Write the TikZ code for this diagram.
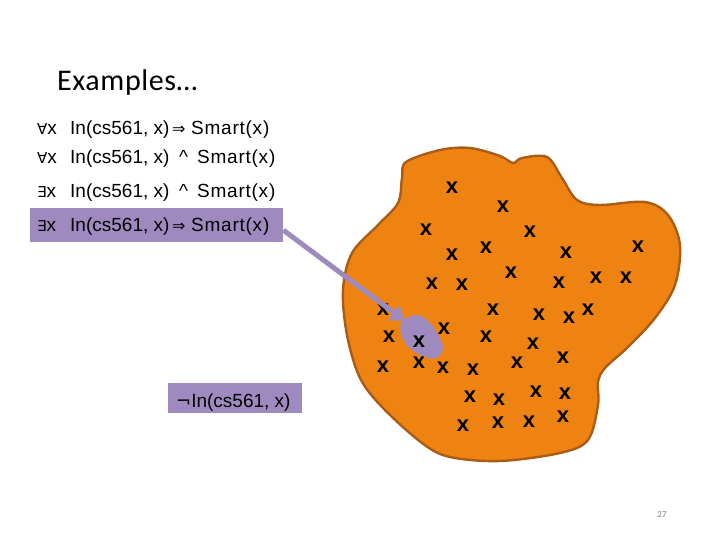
\documentclass[tikz,border=0pt]{standalone}
\usepackage{fontspec}
\setmainfont{Liberation Sans}
\newfontfamily\symfont{DejaVu Sans}
\newfontfamily\calfont{Carlito}
\usetikzlibrary{arrows.meta}
\definecolor{hlpurple}{RGB}{158,138,190}
\definecolor{blobfill}{RGB}{238,131,18}
\definecolor{blobline}{RGB}{170,92,22}
\begin{document}
\begin{tikzpicture}[x=1pt,y=-1pt,
  txt/.style={anchor=base west,inner sep=0pt,font=\fontsize{19}{19}\selectfont},
  smart/.style={anchor=base west,inner sep=0pt,font=\fontsize{19}{19}\selectfont\addfontfeature{LetterSpace=4}},
  sym/.style={anchor=base west,inner sep=0pt,font=\fontsize{16}{16}\symfont},
  mk/.style={inner sep=0pt,font=\fontsize{22}{22}\selectfont\bfseries},
  hl/.style={fill=hlpurple,draw=none}]
\useasboundingbox (0,0) rectangle (720,540);
% title
\node[anchor=base west,inner sep=0pt,font=\fontsize{30}{30}\calfont\addfontfeature{LetterSpace=2}] (title) at (57,91) {Examples\ldots};
% highlighted box
\node[hl,anchor=north west,minimum width=253pt,minimum height=34pt,inner sep=0pt] (f4) at (30,208) {};
% formula lines
\node[txt] (q1) at (37,135) {{\symfont\fontsize{15}{15}\selectfont ∀}x};
\node[txt] (a1) at (70,135) {In(cs561, x)};
\node[sym] (o1) at (172,135) {⇒};
\node[smart] (s1) at (191,135) {Smart(x)};
\node[txt] (q2) at (37,164) {{\symfont\fontsize{15}{15}\selectfont ∀}x};
\node[txt] (a2) at (70,164) {In(cs561, x)};
\node[txt] (o2) at (179,164) {\textasciicircum};
\node[smart] (s2) at (197,164) {Smart(x)};
\node[txt] (q3) at (37,198) {{\symfont\fontsize{15}{15}\selectfont ∃}x};
\node[txt] (a3) at (70,198) {In(cs561, x)};
\node[txt] (o3) at (179,198) {\textasciicircum};
\node[smart] (s3) at (197,198) {Smart(x)};
\node[txt] (q4) at (37,231) {{\symfont\fontsize{15}{15}\selectfont ∃}x};
\node[txt] (a4) at (70,231) {In(cs561, x)};
\node[sym] (o4) at (172,231) {⇒};
\node[smart] (s4) at (191,231) {Smart(x)};
% not-In box
\node[hl,anchor=north west,minimum width=134pt,minimum height=30pt,inner sep=0pt] (nb) at (168,383) {};
\node[txt] (nt) at (176,407) {{\symfont\fontsize{18}{18}\selectfont ¬}In(cs561, x)};
% orange blob
\filldraw[fill=blobfill,draw=blobline,line width=2.4pt] plot[smooth cycle,tension=0.55] coordinates {
 (406,162) (440,150) (470,148) (500,156) (513,163) (522,158) (547,157) (562,178)
 (577,200) (600,205) (645,202) (668,215) (680,245) (675,285) (655,318) (628,347)
 (605,368) (598,382) (598,405) (588,440) (560,453) (500,461) (450,457) (422,443)
 (383,408) (360,378) (347,335) (343,290) (352,253) (378,225) (398,203) (402,178)};
% marks
\foreach \a/\b [count=\i] in {452/188,503/207,426/230,530/232,452/255,486/248,566/253,638/247,
  511/273,432/284,462/285,559/283,596/278,626/278,493/310,539/315,569/318,588/310,383/310,
  444/329,389/337,486/337,533/344,383/367,419/363,443/368,473/370,517/363,563/358,
  470/397,499/400,536/392,565/394,463/426,498/423,529/422,563/417}
  \node[mk] (m\i) at (\a,\b) {x};
% arrow and purple blob
\coordinate (tip) at (405,321);
\draw[hlpurple,line width=5pt,-{Triangle[width=18pt,length=14pt]}] ([yshift=-5pt]f4.east) -- (tip);
\fill[hlpurple] plot[smooth cycle,tension=0.7] coordinates {
 (402,322) (417,315) (429,322) (437,333) (443,348) (436,358) (423,356) (411,349) (402,337)};
\node[mk] (m39) at (419,342) {x};
% page number
\node[inner sep=0pt,font=\fontsize{9}{9}\calfont,text=gray] (pg) at (662,515) {27};
\end{tikzpicture}
\end{document}
